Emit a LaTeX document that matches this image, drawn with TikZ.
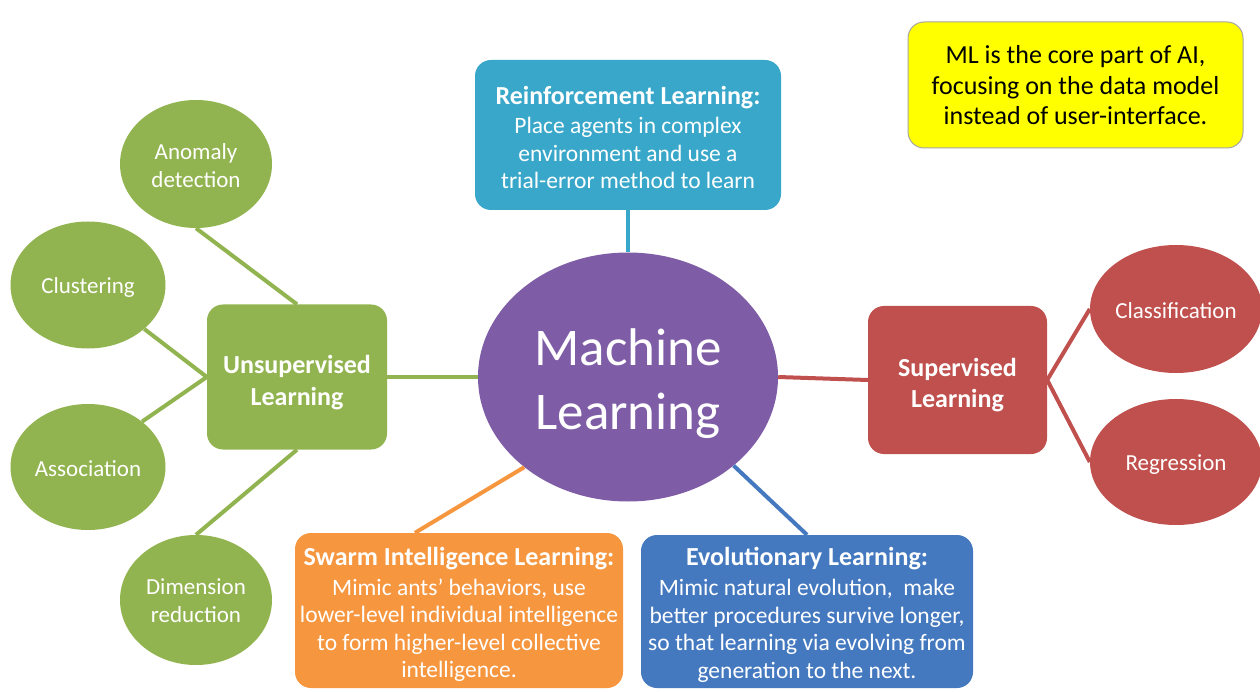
\documentclass[tikz,border=0pt]{standalone}
\usepackage{fontspec}
\setmainfont{Carlito}
\usetikzlibrary{shapes.geometric,calc}
\definecolor{mlgreen}{HTML}{92B450}
\definecolor{mlred}{HTML}{C0504D}
\definecolor{mlteal}{HTML}{38A7C9}
\definecolor{mlpurple}{HTML}{7E5DA6}
\definecolor{mlorange}{HTML}{F6963F}
\definecolor{mlblue}{HTML}{4479C0}
\definecolor{mlyellow}{HTML}{FFFF00}
\newcommand{\dtxt}[2]{\raisebox{-#1pt}[\height][\depth]{\begin{tabular}{@{}c@{}}#2\end{tabular}}}
\newcommand{\ttl}[1]{{\fontsize{26}{28}\selectfont\bfseries #1}}
\tikzset{
  box/.style={rectangle, rounded corners=16pt, align=center, text=white, inner sep=0pt},
  boxtext/.style={font=\fontsize{23.5}{27.5}\selectfont},
  bubble/.style={ellipse, inner sep=0pt, align=center, text=white, font=\fontsize{23}{28}\selectfont},
  link/.style={line width=4pt},
}
\begin{document}
\begin{tikzpicture}[x=1pt,y=-1pt]
\useasboundingbox (0,0) rectangle (1260,692);
\fill[white] (0,0) rectangle (1260,692);

% central
\node[ellipse, fill=mlpurple, minimum width=300, minimum height=249, inner sep=0pt, text=white, font=\fontsize{53}{64}\selectfont] (ml) at (628,377) {\dtxt{8}{Machine\\Learning}};

% yellow note
\node[box, fill=mlyellow, draw=black!35, line width=1pt, text=black, minimum width=335, minimum height=126, font=\fontsize{26}{30.5}\selectfont] (note) at (1075.5,85) {\dtxt{3}{ML is the core part of AI,\\focusing on the data model\\instead of user-interface.}};

% reinforcement
\node[box, boxtext, fill=mlteal, minimum width=306, minimum height=150] (reinf) at (628,135) {\dtxt{6}{\ttl{Reinforcement Learning:}\\[2pt]Place agents in complex\\environment and use a\\trial-error method to learn}};

% unsupervised
\node[box, fill=mlgreen, minimum width=180, minimum height=145, font=\fontsize{26}{32}\selectfont\bfseries] (unsup) at (297,377) {\dtxt{6}{Unsupervised\\Learning}};
\node[bubble, fill=mlgreen, minimum width=152, minimum height=128] (anom) at (196,164) {\dtxt{4}{Anomaly\\detection}};
\node[bubble, fill=mlgreen, minimum width=155, minimum height=127] (clus) at (88,285) {\dtxt{3}{Clustering}};
\node[bubble, fill=mlgreen, minimum width=155, minimum height=126] (assoc) at (88,467) {\dtxt{4}{Association}};
\node[bubble, fill=mlgreen, minimum width=152, minimum height=130] (dim) at (196,600) {\dtxt{3}{Dimension\\reduction}};

% supervised
\node[box, fill=mlred, minimum width=179, minimum height=148, font=\fontsize{26}{31}\selectfont\bfseries] (sup) at (957.5,380) {\dtxt{6}{Supervised\\Learning}};
\node[bubble, fill=mlred, minimum width=172, minimum height=128] (class) at (1176,309) {\dtxt{4}{Classification}};
\node[bubble, fill=mlred, minimum width=172, minimum height=126] (reg) at (1176,462) {\dtxt{2.5}{Regression}};

% swarm
\node[box, boxtext, fill=mlorange, minimum width=328, minimum height=155] (swarm) at (459,610.5) {\dtxt{5.5}{\ttl{Swarm Intelligence Learning:}\\[2.5pt]Mimic ants' behaviors, use\\lower-level individual intelligence\\to form higher-level collective\\intelligence.}};

% evolutionary
\node[box, boxtext, fill=mlblue, minimum width=332, minimum height=153] (evol) at (807,611.5) {\dtxt{5}{\ttl{Evolutionary Learning:}\\[2.5pt]Mimic natural evolution,\ \ make\\better procedures survive longer,\\so that learning via evolving from\\generation to the next.}};

% connectors
\draw[link, mlteal] (reinf.south) -- (ml.north);
\draw[link, mlgreen] (unsup.east) -- (ml.west);
\draw[link, mlred] (ml.east) -- (sup.west);
\draw[link, mlorange] (ml.-139) -- ($(swarm.north west)!0.366!(swarm.north east)$);
\draw[link, mlblue] (ml.-40) -- (evol.north);

\draw[link, mlgreen] (anom.south) -- (unsup.north);
\draw[link, mlgreen] (clus.-38) -- (unsup.west);
\draw[link, mlgreen] (assoc.40) -- (unsup.west);
\draw[link, mlgreen] (dim.north) -- (unsup.south);

\draw[link, mlred] (sup.east) -- (class.west);
\draw[link, mlred] (sup.east) -- (reg.west);
\end{tikzpicture}
\end{document}
